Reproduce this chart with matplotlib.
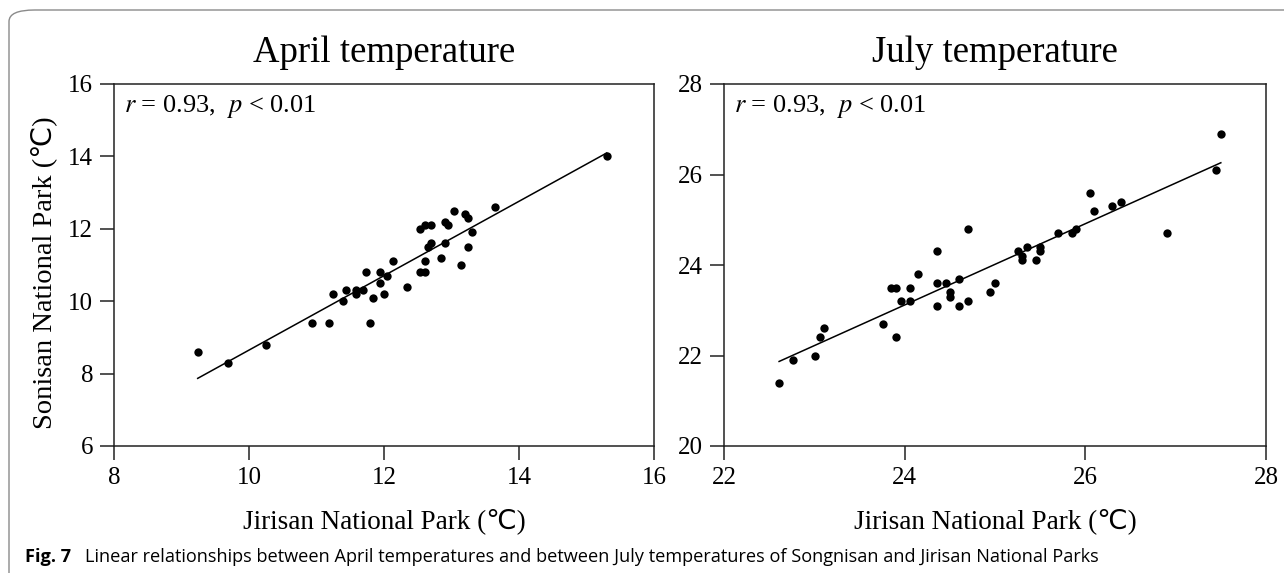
import numpy as np
import matplotlib.pyplot as plt
from matplotlib.patches import FancyBboxPatch

# April: Jirisan (x) vs Songnisan (y)
apr_jirisan = [9.24, 9.69, 10.25, 10.94, 11.19, 11.79, 11.24, 11.39, 11.44, 11.59,
               11.59, 11.69, 11.84, 11.74, 11.94, 11.94, 12.00, 12.04, 12.14, 12.34,
               12.54, 12.60, 12.60, 12.54, 12.60, 12.70, 12.65, 12.70, 12.85, 12.90,
               12.90, 12.95, 13.04, 13.20, 13.25, 13.30, 13.25, 13.14, 13.65, 15.30]
apr_songnisan = [8.6, 8.3, 8.8, 9.4, 9.4, 9.4, 10.2, 10.0, 10.3, 10.3,
                 10.2, 10.3, 10.1, 10.8, 10.8, 10.5, 10.2, 10.7, 11.1, 10.4,
                 10.8, 10.8, 11.1, 12.0, 12.1, 12.1, 11.5, 11.6, 11.2, 11.6,
                 12.2, 12.1, 12.5, 12.4, 12.3, 11.9, 11.5, 11.0, 12.6, 14.0]

# July
jul_jirisan = [22.61, 22.76, 23.01, 23.06, 23.11, 23.76, 23.90, 23.85, 23.90, 23.96,
               24.06, 24.06, 24.15, 24.36, 24.36, 24.36, 24.46, 24.50, 24.50, 24.60,
               24.60, 24.70, 24.70, 24.95, 25.00, 25.25, 25.30, 25.30, 25.35, 25.45,
               25.50, 25.50, 25.70, 25.85, 25.90, 26.05, 26.10, 26.30, 26.40, 26.90,
               27.45, 27.50]
jul_songnisan = [21.4, 21.9, 22.0, 22.4, 22.6, 22.7, 22.4, 23.5, 23.5, 23.2,
                 23.5, 23.2, 23.8, 24.3, 23.6, 23.1, 23.6, 23.4, 23.3, 23.7,
                 23.1, 24.8, 23.2, 23.4, 23.6, 24.3, 24.2, 24.1, 24.4, 24.1,
                 24.4, 24.3, 24.7, 24.7, 24.8, 25.6, 25.2, 25.3, 25.4, 24.7,
                 26.1, 26.9]

apr_ticks = [8, 10, 12, 14, 16]
apr_yticks = [6, 8, 10, 12, 14, 16]
jul_ticks = [22, 24, 26, 28]
jul_yticks = [20, 22, 24, 26, 28]

plt.rcParams['font.family'] = ['Liberation Serif', 'DejaVu Sans']
plt.rcParams['mathtext.fontset'] = 'stix'

fig = plt.figure(figsize=(12.84, 5.73), dpi=100)

# rounded frame around the figure
frame = FancyBboxPatch((9 / 1284, -0.05), 1.1, 1.05 - 10 / 573,
                       boxstyle="round,pad=0,rounding_size=0.02",
                       transform=fig.transFigure, fill=False,
                       edgecolor='#8a8a8a', linewidth=1.0, clip_on=False)
fig.patches.append(frame)

def panel(rect, x, y, xticks, yticks, title, ylabel=None):
    ax = fig.add_axes(rect)
    ax.scatter(x, y, s=36, color='black', zorder=3, linewidths=0)
    k, b = np.polyfit(x, y, 1)
    xs = np.array([min(x), max(x)])
    ax.plot(xs, k * xs + b, color='black', linewidth=1.1)
    ax.set_xlim(xticks[0], xticks[-1])
    ax.set_ylim(yticks[0], yticks[-1])
    ax.set_xticks(xticks)
    ax.set_yticks(yticks)
    ax.tick_params(direction='out', length=10, width=1.1, labelsize=18, pad=5,
                   color='#222222')
    for s in ax.spines.values():
        s.set_linewidth(1.1)
        s.set_color('#222222')
    ax.set_title(title, fontsize=26.5, pad=16)
    ax.set_xlabel('Jirisan National Park (℃)', fontsize=19.5, labelpad=14)
    if ylabel:
        ax.set_ylabel(ylabel, fontsize=20.5)
        ax.yaxis.set_label_coords(-0.106, 0.48)
    ax.text(0.018, 0.975, r'$r$ = 0.93,  $p$ < 0.01', transform=ax.transAxes,
            fontsize=19, va='top', ha='left')
    return ax

panel([114 / 1284, 127 / 573, 540 / 1284, 362 / 573], apr_jirisan, apr_songnisan,
      apr_ticks, apr_yticks, 'April temperature', 'Sonisan National Park (℃)')
panel([724 / 1284, 127 / 573, 542 / 1284, 362 / 573], jul_jirisan, jul_songnisan,
      jul_ticks, jul_yticks, 'July temperature')

cap_font = ['Open Sans', 'DejaVu Sans']
fig.text(25 / 1284, 1 - 557 / 573, 'Fig. 7', fontsize=13.1, fontweight='bold',
         family=cap_font, va='center')
fig.text(85 / 1284, 1 - 557 / 573,
         'Linear relationships between April temperatures and between July temperatures '
         'of Songnisan and Jirisan National Parks',
         fontsize=13.1, family=cap_font, va='center')

fig.savefig('out.png', dpi=100)
